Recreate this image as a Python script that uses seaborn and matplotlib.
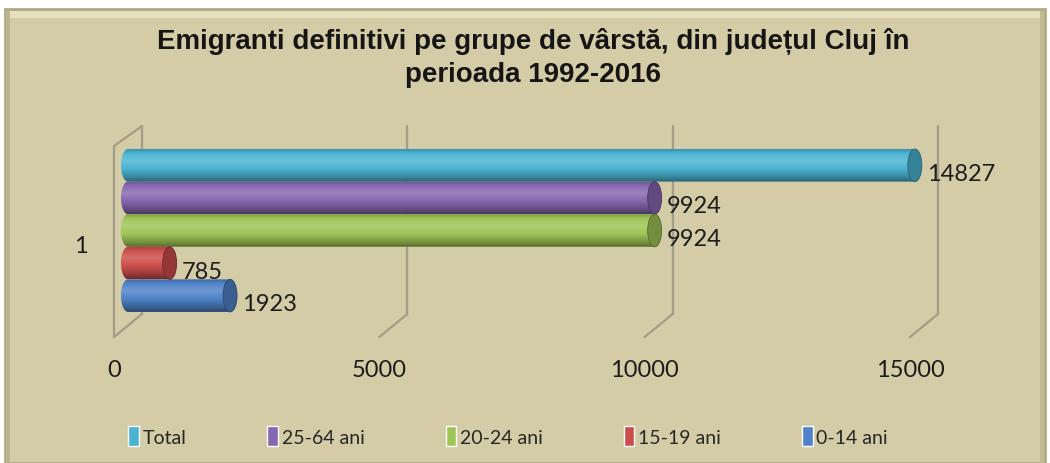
import numpy as np
import pandas as pd
import seaborn as sns
import matplotlib.pyplot as plt
import matplotlib.transforms as mtransforms
from matplotlib.patches import Ellipse, Polygon, Rectangle, ConnectionPatch
from matplotlib.colors import to_rgb

# data
groups = ["Total", "25-64 ani", "20-24 ani", "15-19 ani", "0-14 ani"]
values = [14827, 9924, 9924, 785, 1923]
category = ["1"] * len(groups)
colors = ["#4bb4d2", "#8667b0", "#9fc556", "#cc4e4b", "#4f82c8"]
xticks = [0, 5000, 10000, 15000]
title = "Emigranti definitivi pe grupe de vârstă, din județul Cluj în\nperioada 1992-2016"

W, H = 1050, 464
BG = "#d4cca6"
GRID = "#a39d88"
TXT = "#1c1c1c"

df = pd.DataFrame({"grupa": groups, "emigranti": values, "cat": category})

sns.set_theme(style="white")
plt.rcParams["font.family"] = ["Lato", "DejaVu Sans"]

fig = plt.figure(figsize=(W / 100, H / 100), dpi=100)
fig.patch.set_facecolor("white")

# chart area frame with a soft bevel
fig.add_artist(Rectangle((5 / W, 0), 1040 / W, (H - 10) / H, transform=fig.transFigure,
                         facecolor=BG, edgecolor="#b1a982", lw=2, zorder=-10))
fig.add_artist(Rectangle((8 / W, 1 - 19 / H), 1034 / W, 7 / H, transform=fig.transFigure,
                         facecolor="#e6e0c0", edgecolor="none", zorder=-9))
fig.add_artist(Rectangle((6 / W, 0), 4 / W, (H - 12) / H, transform=fig.transFigure,
                         facecolor="#bdb58f", edgecolor="none", zorder=-9))
fig.add_artist(Rectangle((1040 / W, 0), 4 / W, (H - 12) / H, transform=fig.transFigure,
                         facecolor="#c2ba95", edgecolor="none", zorder=-9))

fig.text(0.508, 1 - 58 / H, title, ha="center", va="center", fontsize=20,
         fontweight="bold", family="Liberation Sans", color="#151515", linespacing=1.38)

ax = fig.add_axes([128 / W, 1 - 338 / H, 796 / W, 211 / H])
ax.set_facecolor("none")
sns.barplot(data=df, x="emigranti", y="cat", hue="grupa", hue_order=groups,
            palette=colors, orient="h", width=0.8, saturation=1, errorbar=None, ax=ax)

ax.set_xlim(0, 15000)
ax.set_ylim(0.523, -0.513)
ax.set_xticks(xticks)
ax.set_xlabel("")
ax.set_ylabel("")
for s in ax.spines.values():
    s.set_visible(False)
ax.tick_params(axis="both", length=0, labelsize=17, labelcolor=TXT)
ax.tick_params(axis="x", pad=16)
ax.tick_params(axis="y", pad=29)

px_per_unit = 796 / 15000
rx = 7 / px_per_unit


def shade(c, f):
    c = np.array(c)
    if f >= 1:
        return c + (1 - c) * (f - 1)
    return c * f


profile_s = np.linspace(0, 1, 64)
profile_f = np.interp(profile_s, [0, 0.12, 0.35, 0.6, 0.85, 1], [0.8, 1.0, 1.18, 1.0, 0.75, 0.55])

for container, col in zip(ax.containers, colors):
    base = to_rgb(col)
    grad = np.array([[shade(base, f)] * 2 for f in profile_f])
    for bar in container:
        x0 = bar.get_x()
        x1 = x0 + bar.get_width()
        y0 = bar.get_y()
        h = bar.get_height()
        yc = y0 + h / 2
        bar.set_visible(False)

        t = np.linspace(-np.pi / 2, np.pi / 2, 40)
        left = np.column_stack([x0 - rx * np.cos(t), yc + h / 2 * np.sin(t)])
        right = np.column_stack([x1 + rx * np.cos(t[::-1]), yc + h / 2 * np.sin(t[::-1])])
        body = Polygon(np.vstack([left, right]), closed=True, transform=ax.transData,
                       facecolor="none", edgecolor="none")
        ax.add_patch(body)
        im = ax.imshow(grad, extent=(x0 - rx, x1 + rx, y0 + h, y0), origin="upper",
                       aspect="auto", interpolation="bilinear", zorder=2)
        im.set_clip_box(fig.bbox)
        im.set_clip_path(body)

        ax.add_patch(Ellipse((x1, yc), 2 * rx, h, facecolor=shade(base, 0.72),
                             edgecolor=shade(base, 0.55), lw=0.6, zorder=3))
        ax.annotate(f"{int(bar.get_width())}", xy=(x1, yc), xytext=(12, -8),
                    textcoords="offset pixels", ha="left", va="center",
                    fontsize=17, color=TXT, zorder=4)

ax.set_xlim(0, 15000)
ax.set_ylim(0.523, -0.513)

# 3D-like grid: back wall verticals and floor diagonals
blend = mtransforms.blended_transform_factory(ax.transData, ax.transAxes)
back = mtransforms.offset_copy(blend, fig=fig, x=14, y=0, units="dots")
front = mtransforms.offset_copy(blend, fig=fig, x=-14, y=0, units="dots")
floor_y = 0.109
for v in xticks:
    ax.plot([v, v], [1.0, floor_y], transform=back, color=GRID, lw=1.6, zorder=1, clip_on=False)
    ax.add_artist(ConnectionPatch((v, floor_y), (v, 0.0), coordsA=back, coordsB=front,
                                  color=GRID, lw=1.6, zorder=1))
# left wall
ax.add_artist(ConnectionPatch((0, 1.0), (0, 0.905), coordsA=back, coordsB=front,
                              color=GRID, lw=1.6, zorder=1))
ax.plot([0, 0], [0.905, 0.0], transform=front, color=GRID, lw=1.6, zorder=1, clip_on=False)

ax.set_yticks([0])
ax.set_yticklabels(["1"])
for lab in ax.get_xticklabels():
    lab.set_transform(lab.get_transform() + mtransforms.ScaledTranslation(-14 / 100, 0, fig.dpi_scale_trans))
for lab in ax.get_yticklabels():
    lab.set_transform(lab.get_transform() + mtransforms.ScaledTranslation(0, -13 / 100, fig.dpi_scale_trans))

sns.move_legend(ax, "center", bbox_to_anchor=(0.484, 1 - 437 / H), bbox_transform=fig.transFigure,
                ncol=5, frameon=False, title=None, fontsize=14, handlelength=0.55,
                handleheight=1.25, handletextpad=0.2, columnspacing=4.15)

fig.savefig("out.png", dpi=100)
